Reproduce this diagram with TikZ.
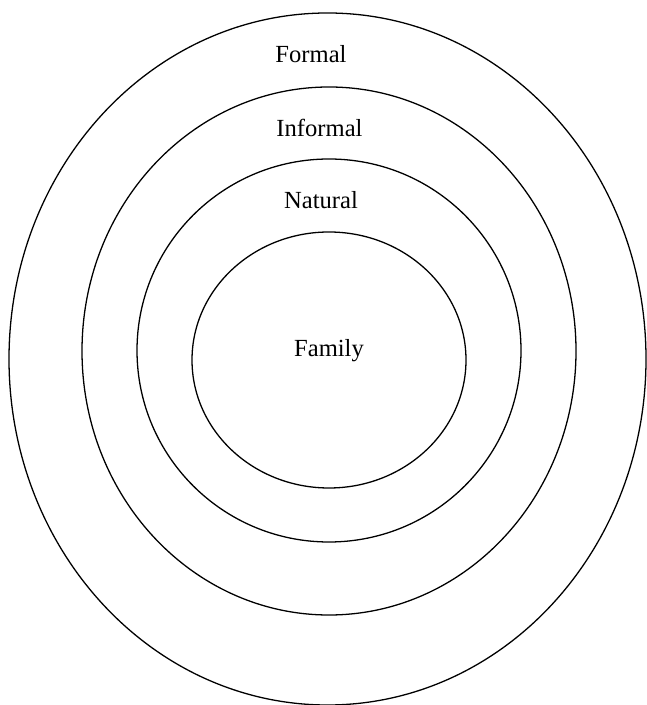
\documentclass[tikz,border=0pt]{standalone}
\usepackage{fontspec}
\setmainfont{Liberation Serif}
\usepackage{tikz}

\begin{document}
\begin{tikzpicture}[x=0.03cm, y=0.03cm]

        \tikzstyle{every node}=[font=\fontsize{21}{25}\selectfont, anchor=base]
        \tikzstyle{ring}=[line width=1.1pt, black]

        % Fix the page to the size of the picture
        \useasboundingbox (0,0) rectangle (646,705);

        % Define the centres of the rings
        \coordinate (outerc) at (327.5,346);
        \coordinate (informalc) at (329,354);
        \coordinate (naturalc) at (329,354.5);
        \coordinate (familyc) at (329,345);

        % Draw the rings, from the outside in
        \draw [ring] (outerc) ellipse [x radius=318.5, y radius=346];
        \draw [ring] (informalc) ellipse [x radius=247, y radius=264];
        \draw [ring] (naturalc) ellipse [x radius=192, y radius=191.5];
        \draw [ring] (familyc) ellipse [x radius=137, y radius=128];

        % Add labels for the rings
        \node (formal) at (311,642) {Formal};
        \node (informal) at (319.5,568) {Informal};
        \node (natural) at (321,496) {Natural};
        \node (family) at (329,348) {Family};
    \end{tikzpicture}
\end{document}
